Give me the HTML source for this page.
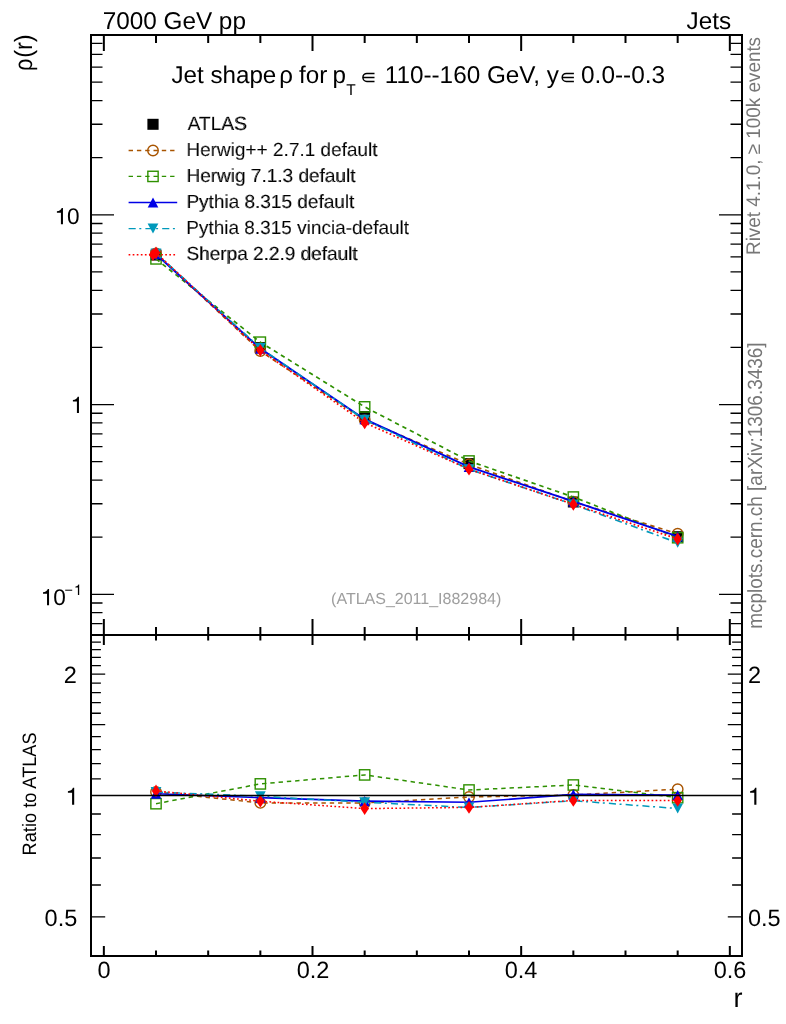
<!DOCTYPE html>
<html lang="en"><head><meta charset="utf-8"><title>Jet shape</title><style>html,body{margin:0;padding:0;background:#fff}svg{display:block;will-change:transform;text-rendering:geometricPrecision}text.t{stroke:#fff;stroke-width:.22px}</style></head><body>
<svg width="786" height="1024" viewBox="0 0 786 1024" font-family="Liberation Sans, sans-serif">
<rect width="786" height="1024" fill="#fff"/>
<path d="M92.00 623.69h10.5M741.00 623.69h-10.5M92.00 612.69h10.5M741.00 612.69h-10.5M92.00 602.98h10.5M741.00 602.98h-10.5M92.00 594.30h22M741.00 594.30h-22M92.00 537.18h10.5M741.00 537.18h-10.5M92.00 503.77h10.5M741.00 503.77h-10.5M92.00 480.06h10.5M741.00 480.06h-10.5M92.00 461.67h10.5M741.00 461.67h-10.5M92.00 446.65h10.5M741.00 446.65h-10.5M92.00 433.94h10.5M741.00 433.94h-10.5M92.00 422.94h10.5M741.00 422.94h-10.5M92.00 413.23h10.5M741.00 413.23h-10.5M92.00 404.55h22M741.00 404.55h-22M92.00 347.43h10.5M741.00 347.43h-10.5M92.00 314.02h10.5M741.00 314.02h-10.5M92.00 290.31h10.5M741.00 290.31h-10.5M92.00 271.92h10.5M741.00 271.92h-10.5M92.00 256.90h10.5M741.00 256.90h-10.5M92.00 244.19h10.5M741.00 244.19h-10.5M92.00 233.19h10.5M741.00 233.19h-10.5M92.00 223.48h10.5M741.00 223.48h-10.5M92.00 214.80h22M741.00 214.80h-22M92.00 157.68h10.5M741.00 157.68h-10.5M92.00 124.27h10.5M741.00 124.27h-10.5M92.00 100.56h10.5M741.00 100.56h-10.5M92.00 82.17h10.5M741.00 82.17h-10.5M92.00 67.15h10.5M741.00 67.15h-10.5M92.00 54.44h10.5M741.00 54.44h-10.5M92.00 43.44h10.5M741.00 43.44h-10.5M92.00 916.95h13.2M741.00 916.95h-13.2M92.00 885.02h8.9M741.00 885.02h-8.9M92.00 858.02h8.9M741.00 858.02h-8.9M92.00 834.63h8.9M741.00 834.63h-8.9M92.00 814.00h8.9M741.00 814.00h-8.9M92.00 778.86h8.9M741.00 778.86h-8.9M92.00 763.62h8.9M741.00 763.62h-8.9M92.00 749.60h8.9M741.00 749.60h-8.9M92.00 736.62h8.9M741.00 736.62h-8.9M92.00 724.54h13.2M741.00 724.54h-13.2M92.00 713.23h8.9M741.00 713.23h-8.9M92.00 702.61h8.9M741.00 702.61h-8.9M92.00 692.60h8.9M741.00 692.60h-8.9M92.00 683.13h8.9M741.00 683.13h-8.9M92.00 674.15h13.2M741.00 674.15h-13.2M92.00 665.60h8.9M741.00 665.60h-8.9M92.00 657.46h8.9M741.00 657.46h-8.9M92.00 649.67h8.9M741.00 649.67h-8.9M92.00 642.22h8.9M741.00 642.22h-8.9" stroke="#000" stroke-width="1.3" fill="none"/>
<path d="M103.85 35.00v16M103.85 635.00v-16M103.85 635.00v10M103.85 956.00v-10M156.01 35.00v8M156.01 635.00v-8M156.01 635.00v5.5M156.01 956.00v-5.5M208.18 35.00v8M208.18 635.00v-8M208.18 635.00v5.5M208.18 956.00v-5.5M260.35 35.00v8M260.35 635.00v-8M260.35 635.00v5.5M260.35 956.00v-5.5M312.51 35.00v16M312.51 635.00v-16M312.51 635.00v10M312.51 956.00v-10M364.67 35.00v8M364.67 635.00v-8M364.67 635.00v5.5M364.67 956.00v-5.5M416.84 35.00v8M416.84 635.00v-8M416.84 635.00v5.5M416.84 956.00v-5.5M469.00 35.00v8M469.00 635.00v-8M469.00 635.00v5.5M469.00 956.00v-5.5M521.17 35.00v16M521.17 635.00v-16M521.17 635.00v10M521.17 956.00v-10M573.34 35.00v8M573.34 635.00v-8M573.34 635.00v5.5M573.34 956.00v-5.5M625.50 35.00v8M625.50 635.00v-8M625.50 635.00v5.5M625.50 956.00v-5.5M677.67 35.00v8M677.67 635.00v-8M677.67 635.00v5.5M677.67 956.00v-5.5M729.83 35.00v16M729.83 635.00v-16M729.83 635.00v10M729.83 956.00v-10" stroke="#000" stroke-width="2" fill="none"/>
<rect x="150.51" y="249.55" width="11" height="11" fill="#000"/>
<rect x="254.84" y="342.15" width="11" height="11" fill="#000"/>
<rect x="359.17" y="411.10" width="11" height="11" fill="#000"/>
<rect x="463.50" y="458.10" width="11" height="11" fill="#000"/>
<rect x="567.84" y="496.50" width="11" height="11" fill="#000"/>
<rect x="672.17" y="531.20" width="11" height="11" fill="#000"/>
<polyline points="156.01,253.38 260.34,351.11 364.67,420.11 469.00,464.28 573.34,501.74 677.67,533.71" fill="none" stroke="#a85400" stroke-width="1.7" stroke-dasharray="4.4 3.9"/>
<circle cx="156.01" cy="253.38" r="5.25" fill="none" stroke="#a85400" stroke-width="1.4"/>
<circle cx="260.34" cy="351.11" r="5.25" fill="none" stroke="#a85400" stroke-width="1.4"/>
<circle cx="364.67" cy="420.11" r="5.25" fill="none" stroke="#a85400" stroke-width="1.4"/>
<circle cx="469.00" cy="464.28" r="5.25" fill="none" stroke="#a85400" stroke-width="1.4"/>
<circle cx="573.34" cy="501.74" r="5.25" fill="none" stroke="#a85400" stroke-width="1.4"/>
<circle cx="677.67" cy="533.71" r="5.25" fill="none" stroke="#a85400" stroke-width="1.4"/>
<polyline points="156.01,258.88 260.34,342.17 364.67,406.88 469.00,460.99 573.34,497.04 677.67,537.71" fill="none" stroke="#2e9000" stroke-width="1.7" stroke-dasharray="4.4 3.9"/>
<rect x="150.86" y="253.73" width="10.3" height="10.3" fill="none" stroke="#2e9000" stroke-width="1.4"/>
<rect x="255.19" y="337.02" width="10.3" height="10.3" fill="none" stroke="#2e9000" stroke-width="1.4"/>
<rect x="359.52" y="401.73" width="10.3" height="10.3" fill="none" stroke="#2e9000" stroke-width="1.4"/>
<rect x="463.86" y="455.84" width="10.3" height="10.3" fill="none" stroke="#2e9000" stroke-width="1.4"/>
<rect x="568.19" y="491.89" width="10.3" height="10.3" fill="none" stroke="#2e9000" stroke-width="1.4"/>
<rect x="672.52" y="532.56" width="10.3" height="10.3" fill="none" stroke="#2e9000" stroke-width="1.4"/>
<polyline points="156.01,254.18 260.34,348.61 364.67,419.21 469.00,466.78 573.34,501.46 677.67,536.44" fill="none" stroke="#0000e6" stroke-width="1.9"/>
<path d="M150.71 259.28L161.31 259.28L156.01 249.08Z" fill="#0000e6"/>
<path d="M255.04 353.71L265.64 353.71L260.34 343.51Z" fill="#0000e6"/>
<path d="M359.37 424.31L369.97 424.31L364.67 414.11Z" fill="#0000e6"/>
<path d="M463.70 471.88L474.31 471.88L469.00 461.68Z" fill="#0000e6"/>
<path d="M568.04 506.56L578.63 506.56L573.34 496.36Z" fill="#0000e6"/>
<path d="M672.37 541.54L682.97 541.54L677.67 531.34Z" fill="#0000e6"/>
<polyline points="156.01,253.38 260.34,348.00 364.67,419.73 469.00,469.22 573.34,504.42 677.67,542.79" fill="none" stroke="#0099bb" stroke-width="1.65" stroke-dasharray="7.1 3.6 2 4.1"/>
<path d="M150.61 248.38L161.41 248.38L156.01 258.38Z" fill="#0099bb"/>
<path d="M254.94 343.00L265.74 343.00L260.34 353.00Z" fill="#0099bb"/>
<path d="M359.27 414.73L370.07 414.73L364.67 424.73Z" fill="#0099bb"/>
<path d="M463.61 464.22L474.40 464.22L469.00 474.22Z" fill="#0099bb"/>
<path d="M567.94 499.42L578.74 499.42L573.34 509.42Z" fill="#0099bb"/>
<path d="M672.27 537.79L683.07 537.79L677.67 547.79Z" fill="#0099bb"/>
<polyline points="156.01,252.86 260.34,350.31 364.67,422.74 469.00,469.18 573.34,504.28 677.67,538.98" fill="none" stroke="#ff0000" stroke-width="1.7" stroke-dasharray="1.7 2.37"/>
<path d="M156.01 246.46L160.21 252.86L156.01 259.26L151.81 252.86Z" fill="#ff0000"/>
<path d="M260.34 343.91L264.54 350.31L260.34 356.71L256.14 350.31Z" fill="#ff0000"/>
<path d="M364.67 416.34L368.87 422.74L364.67 429.14L360.47 422.74Z" fill="#ff0000"/>
<path d="M469.00 462.78L473.20 469.18L469.00 475.58L464.81 469.18Z" fill="#ff0000"/>
<path d="M573.34 497.88L577.54 504.28L573.34 510.68L569.13 504.28Z" fill="#ff0000"/>
<path d="M677.67 532.58L681.87 538.98L677.67 545.38L673.47 538.98Z" fill="#ff0000"/>
<polyline points="156.01,792.00 260.34,802.90 364.67,803.00 469.00,797.00 573.34,795.00 677.67,789.20" fill="none" stroke="#a85400" stroke-width="1.5" stroke-dasharray="4.4 3.9"/>
<circle cx="156.01" cy="792.00" r="5.25" fill="none" stroke="#a85400" stroke-width="1.4"/>
<circle cx="260.34" cy="802.90" r="5.25" fill="none" stroke="#a85400" stroke-width="1.4"/>
<circle cx="364.67" cy="803.00" r="5.25" fill="none" stroke="#a85400" stroke-width="1.4"/>
<circle cx="469.00" cy="797.00" r="5.25" fill="none" stroke="#a85400" stroke-width="1.4"/>
<circle cx="573.34" cy="795.00" r="5.25" fill="none" stroke="#a85400" stroke-width="1.4"/>
<circle cx="677.67" cy="789.20" r="5.25" fill="none" stroke="#a85400" stroke-width="1.4"/>
<polyline points="156.01,803.70 260.34,783.90 364.67,774.90 469.00,790.00 573.34,785.00 677.67,797.70" fill="none" stroke="#2e9000" stroke-width="1.5" stroke-dasharray="4.4 3.9"/>
<rect x="150.86" y="798.55" width="10.3" height="10.3" fill="none" stroke="#2e9000" stroke-width="1.4"/>
<rect x="255.19" y="778.75" width="10.3" height="10.3" fill="none" stroke="#2e9000" stroke-width="1.4"/>
<rect x="359.52" y="769.75" width="10.3" height="10.3" fill="none" stroke="#2e9000" stroke-width="1.4"/>
<rect x="463.86" y="784.85" width="10.3" height="10.3" fill="none" stroke="#2e9000" stroke-width="1.4"/>
<rect x="568.19" y="779.85" width="10.3" height="10.3" fill="none" stroke="#2e9000" stroke-width="1.4"/>
<rect x="672.52" y="792.55" width="10.3" height="10.3" fill="none" stroke="#2e9000" stroke-width="1.4"/>
<polyline points="156.01,793.70 260.34,797.60 364.67,801.10 469.00,802.30 573.34,794.40 677.67,795.00" fill="none" stroke="#0000e6" stroke-width="1.6"/>
<path d="M150.71 798.80L161.31 798.80L156.01 788.60Z" fill="#0000e6"/>
<path d="M255.04 802.70L265.64 802.70L260.34 792.50Z" fill="#0000e6"/>
<path d="M359.37 806.20L369.97 806.20L364.67 796.00Z" fill="#0000e6"/>
<path d="M463.70 807.40L474.31 807.40L469.00 797.20Z" fill="#0000e6"/>
<path d="M568.04 799.50L578.63 799.50L573.34 789.30Z" fill="#0000e6"/>
<path d="M672.37 800.10L682.97 800.10L677.67 789.90Z" fill="#0000e6"/>
<polyline points="156.01,792.00 260.34,796.30 364.67,802.20 469.00,807.50 573.34,800.70 677.67,808.50" fill="none" stroke="#0099bb" stroke-width="1.5" stroke-dasharray="7.1 3.6 2 4.1"/>
<path d="M150.61 787.00L161.41 787.00L156.01 797.00Z" fill="#0099bb"/>
<path d="M254.94 791.30L265.74 791.30L260.34 801.30Z" fill="#0099bb"/>
<path d="M359.27 797.20L370.07 797.20L364.67 807.20Z" fill="#0099bb"/>
<path d="M463.61 802.50L474.40 802.50L469.00 812.50Z" fill="#0099bb"/>
<path d="M567.94 795.70L578.74 795.70L573.34 805.70Z" fill="#0099bb"/>
<path d="M672.27 803.50L683.07 803.50L677.67 813.50Z" fill="#0099bb"/>
<polyline points="156.01,790.90 260.34,801.20 364.67,808.60 469.00,807.40 573.34,800.40 677.67,800.40" fill="none" stroke="#ff0000" stroke-width="1.5" stroke-dasharray="1.7 2.37"/>
<path d="M156.01 784.50L160.21 790.90L156.01 797.30L151.81 790.90Z" fill="#ff0000"/>
<path d="M260.34 794.80L264.54 801.20L260.34 807.60L256.14 801.20Z" fill="#ff0000"/>
<path d="M364.67 802.20L368.87 808.60L364.67 815.00L360.47 808.60Z" fill="#ff0000"/>
<path d="M469.00 801.00L473.20 807.40L469.00 813.80L464.81 807.40Z" fill="#ff0000"/>
<path d="M573.34 794.00L577.54 800.40L573.34 806.80L569.13 800.40Z" fill="#ff0000"/>
<path d="M677.67 794.00L681.87 800.40L677.67 806.80L673.47 800.40Z" fill="#ff0000"/>
<path d="M91.00 795.55H742.00" stroke="#000" stroke-width="1.4"/>
<rect x="147.40" y="118.80" width="11.2" height="11" fill="#000"/>
<path d="M128.6 150.50H175.2" stroke="#a85400" stroke-width="1.4" stroke-dasharray="4.4 3.9" fill="none"/>
<circle cx="153.00" cy="150.50" r="5.25" fill="none" stroke="#a85400" stroke-width="1.4"/>
<path d="M128.6 176.40H175.2" stroke="#2e9000" stroke-width="1.4" stroke-dasharray="4.4 3.9" fill="none"/>
<rect x="147.85" y="171.25" width="10.3" height="10.3" fill="none" stroke="#2e9000" stroke-width="1.4"/>
<path d="M128.6 202.50H177.2" stroke="#0000e6" stroke-width="1.5" fill="none"/>
<path d="M147.70 207.60L158.30 207.60L153.00 197.40Z" fill="#0000e6"/>
<path d="M128.6 228.60H175.2" stroke="#0099bb" stroke-width="1.4" stroke-dasharray="7.1 3.6 2 4.1" fill="none"/>
<path d="M147.60 223.60L158.40 223.60L153.00 233.60Z" fill="#0099bb"/>
<path d="M128.6 254.70H175.2" stroke="#ff0000" stroke-width="1.45" stroke-dasharray="1.7 2.37" fill="none"/>
<path d="M153.00 248.30L157.20 254.70L153.00 261.10L148.80 254.70Z" fill="#ff0000"/>
<text x="187.6" y="129.6" font-size="19">ATLAS</text>
<text x="186.2" y="155.8" font-size="19">Herwig++ 2.7.1 default</text>
<text x="186.2" y="182.0" font-size="19">Herwig 7.1.3 default</text>
<text x="186.2" y="208.0" font-size="19">Pythia 8.315 default</text>
<text x="186.2" y="233.9" font-size="19">Pythia 8.315 vincia-default</text>
<text x="186.2" y="259.8" font-size="19">Sherpa 2.2.9 default</text>
<path d="M91.0 35.0H742.0V956.0H91.0Z M91.0 635.0H742.0" fill="none" stroke="#000" stroke-width="2"/>
<text x="102.71" y="28.9" font-size="24.3">7000 GeV pp</text>
<text x="686.52" y="29.0" font-size="24.3">Jets</text>
<text x="171.44" y="82.8" font-size="24.2">Jet shape</text>
<text x="279.31" y="82.8" font-size="24">ρ</text>
<text x="298.97" y="82.8" font-size="24.2">for</text>
<text x="332.40" y="82.8" font-size="24.2">p</text>
<text x="346.22" y="95.1" font-size="15.5">T</text>
<text x="384.71" y="82.8" font-size="24.3">110--160 GeV, y</text>
<text x="581.05" y="82.8" font-size="24.4">0.0--0.3</text>
<text x="187.65" y="129.6" font-size="19.3" class="t">ATLAS</text>
<text x="186.49" y="155.8" font-size="19" class="t">Herwig++ 2.7.1 default</text>
<text x="186.73" y="182.0" font-size="19" class="t">Herwig 7.1.3 default</text>
<text x="186.63" y="208.0" font-size="19" class="t">Pythia 8.315 default</text>
<text x="186.25" y="233.9" font-size="19" class="t">Pythia 8.315 vincia-default</text>
<text x="186.82" y="259.8" font-size="19" class="t">Sherpa 2.2.9 default</text>
<text x="331.08" y="604.2" font-size="16" fill="#9e9e9e">(ATLAS_2011_I882984)</text>
<text x="733.47" y="1007.0" font-size="27">r</text>
<text x="97.50" y="978.3" font-size="23.5">0</text>
<text x="296.71" y="978.3" font-size="23.5">0.2</text>
<text x="504.77" y="978.3" font-size="23.5">0.4</text>
<text x="713.66" y="978.3" font-size="23.5">0.6</text>
<text x="44.59" y="925.6" font-size="23.5">0.5</text>
<text x="747.99" y="925.6" font-size="23.5">0.5</text>
<text x="63.71" y="683.1" font-size="23.5">2</text>
<text x="747.91" y="683.1" font-size="23.5">2</text>
<text transform="translate(32.0 57.87) rotate(-90) scale(0.9401 1)" font-size="25">(r)</text>
<text transform="translate(32.0 70.91) rotate(-90) scale(0.8739 1)" font-size="25">ρ</text>
<text transform="translate(36.3 855.40) rotate(-90) scale(0.9383 1)" font-size="19.4">Ratio to ATLAS</text>
<text transform="translate(760.4 254.95) rotate(-90) scale(0.9583 1)" font-size="19.7" fill="#777">Rivet 4.1.0, ≥ 100k events</text>
<text transform="translate(762.4 628.80) rotate(-90) scale(0.9239 1)" font-size="20.5" fill="#777">mcplots.cern.ch [arXiv:1306.3436]</text>
<path d="M374.50 73.40H366.90A4.00 4.00 0 0 0 366.90 81.40H374.50M362.90 77.40H374.50" fill="none" stroke="#000" stroke-width="1.5"/>
<path d="M573.90 73.40H566.20A4.00 4.00 0 0 0 566.20 81.40H573.90M562.20 77.40H573.90" fill="none" stroke="#000" stroke-width="1.5"/>
<path d="M60.92 224.30V212.73H56.90V211.33C59.27 211.15 61.13 210.18 61.71 208.12H62.96V224.30Z" fill="#000"/>
<text x="67.09" y="224.3" font-size="22.6">0</text>
<path d="M76.92 413.00V401.43H72.90V400.03C75.27 399.85 77.13 398.88 77.71 396.82H78.96V413.00Z" fill="#000"/>
<path d="M47.02 605.30V593.73H43.00V592.33C45.37 592.15 47.23 591.17 47.81 589.12H49.06V605.30Z" fill="#000"/>
<text x="53.19" y="605.3" font-size="22.6">0</text>
<text x="64.6" y="594.9" font-size="14.4">−</text>
<path d="M77.90 594.90V587.53H75.34V586.63C76.85 586.52 78.03 585.90 78.41 584.59H79.20V594.90Z" fill="#000"/>
<path d="M72.08 804.70V792.67H67.90V791.21C70.37 791.02 72.29 790.01 72.91 787.87H74.20V804.70Z" fill="#000"/>
<path d="M754.28 804.70V792.67H750.10V791.21C752.57 791.02 754.49 790.01 755.11 787.87H756.40V804.70Z" fill="#000"/>
</svg>
</body></html>
